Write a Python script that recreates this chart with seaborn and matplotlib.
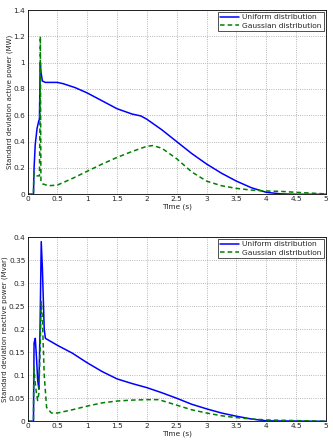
import matplotlib
matplotlib.use("Agg")
import matplotlib.pyplot as plt
import seaborn as sns
import numpy as np

sns.set_style("white")
plt.rcParams['font.family'] = ['DejaVu Sans']

# Active power - uniform
t_pu = [0, 0.1, 0.11, 0.13, 0.16, 0.19, 0.2, 0.21, 0.215, 0.225, 0.25, 0.3, 0.5, 0.6, 0.8, 1.0, 1.25, 1.5, 1.75, 1.9,
        2.0, 2.25, 2.5, 2.75, 3.0, 3.25, 3.5, 3.75, 4.0, 4.25, 4.5, 5.0]
p_uni = [0, 0, 0.2, 0.38, 0.5, 0.56, 0.57, 0.9, 1.0, 0.93, 0.86, 0.85, 0.85, 0.84, 0.81, 0.77, 0.71, 0.65, 0.61, 0.595,
         0.57, 0.49, 0.40, 0.31, 0.23, 0.16, 0.10, 0.05, 0.015, 0.003, 0.0, 0.0]
# Active power - gaussian
t_pg = [0, 0.1, 0.105, 0.12, 0.15, 0.18, 0.2, 0.21, 0.215, 0.22, 0.225, 0.25, 0.35, 0.5, 0.75, 1.0, 1.25, 1.5, 1.75,
        2.0, 2.1, 2.25, 2.5, 2.75, 3.0, 3.25, 3.5, 3.75, 4.0, 4.25, 4.5, 5.0]
p_gau = [0, 0, 0.15, 0.16, 0.14, 0.14, 0.14, 0.6, 1.2, 0.6, 0.1, 0.08, 0.065, 0.07, 0.12, 0.175, 0.23, 0.28, 0.325,
         0.365, 0.37, 0.35, 0.27, 0.17, 0.10, 0.065, 0.045, 0.032, 0.025, 0.022, 0.015, 0.003]

# Reactive power - uniform
t_qu = [0, 0.1, 0.11, 0.13, 0.15, 0.17, 0.19, 0.21, 0.23, 0.25, 0.28, 0.3, 0.5, 0.75, 1.0, 1.25, 1.5, 1.75, 2.0,
        2.25, 2.5, 2.75, 3.0, 3.25, 3.5, 3.75, 4.0, 5.0]
q_uni = [0, 0, 0.17, 0.18, 0.14, 0.09, 0.07, 0.2, 0.39, 0.33, 0.2, 0.18, 0.165, 0.148, 0.127, 0.108, 0.092, 0.082,
         0.073, 0.062, 0.05, 0.037, 0.027, 0.018, 0.011, 0.005, 0.001, 0.0]
# Reactive power - gaussian
t_qg = [0, 0.1, 0.105, 0.12, 0.15, 0.17, 0.19, 0.21, 0.23, 0.25, 0.28, 0.32, 0.4, 0.5, 0.75, 1.0, 1.25, 1.5, 1.75,
        2.0, 2.2, 2.5, 2.75, 3.0, 3.25, 3.5, 3.75, 4.0, 5.0]
q_gau = [0, 0, 0.12, 0.095, 0.06, 0.045, 0.06, 0.15, 0.26, 0.22, 0.1, 0.03, 0.018, 0.018, 0.025, 0.033, 0.04, 0.044,
         0.046, 0.047, 0.047, 0.035, 0.025, 0.018, 0.012, 0.008, 0.005, 0.003, 0.0]

labels = ["Uniform distribution", "Gaussian distribution"]

fig = plt.figure(figsize=(3.33, 4.44), dpi=100)
ax1 = fig.add_axes([27.5/333, 1 - 194.3/444, (326-27.5)/333, (194.3-10)/444])
ax2 = fig.add_axes([27.5/333, 1 - 421.3/444, (326-27.5)/333, (421.3-237)/444])

def draw(ax, tu, yu, tg, yg, ylim, yticks, ylabel):
    sns.lineplot(x=tu, y=yu, ax=ax, color="#0000ff", linewidth=1.1, label=labels[0], sort=False)
    sns.lineplot(x=tg, y=yg, ax=ax, color="#008000", linewidth=1.1, linestyle=(0, (3, 2)), label=labels[1], sort=False)
    ax.set_xlim(0, 5)
    ax.set_ylim(*ylim)
    ax.set_xticks(np.arange(0, 5.01, 0.5))
    ax.set_xticklabels(["0", "0.5", "1", "1.5", "2", "2.5", "3", "3.5", "4", "4.5", "5"])
    ax.set_yticks(yticks)
    ax.set_yticklabels([("%g" % v) for v in yticks])
    ax.grid(True, linestyle=":", color="#a0a0a0", linewidth=0.6)
    ax.tick_params(labelsize=5.3, length=2, pad=1.5, direction="in")
    ax.set_xlabel("Time (s)", fontsize=5.3, labelpad=1)
    ax.set_ylabel(ylabel, fontsize=5.0, labelpad=0.5)
    for s in ax.spines.values():
        s.set_linewidth(0.6)
        s.set_color("black")
    leg = ax.legend(loc="upper right", fontsize=5.4, frameon=True, fancybox=False, borderpad=0.3,
                    handlelength=2.6, handletextpad=0.4, labelspacing=0.3, borderaxespad=0.25)
    leg.get_frame().set_edgecolor("black")
    leg.get_frame().set_linewidth(0.6)

draw(ax1, t_pu, p_uni, t_pg, p_gau, (0, 1.4), [0, 0.2, 0.4, 0.6, 0.8, 1.0, 1.2, 1.4],
     "Standard deviation active power (MW)")
draw(ax2, t_qu, q_uni, t_qg, q_gau, (0, 0.4), [0, 0.05, 0.1, 0.15, 0.2, 0.25, 0.3, 0.35, 0.4],
     "Standard deviation reactive power (Mvar)")

fig.savefig("out.png", dpi=100)
